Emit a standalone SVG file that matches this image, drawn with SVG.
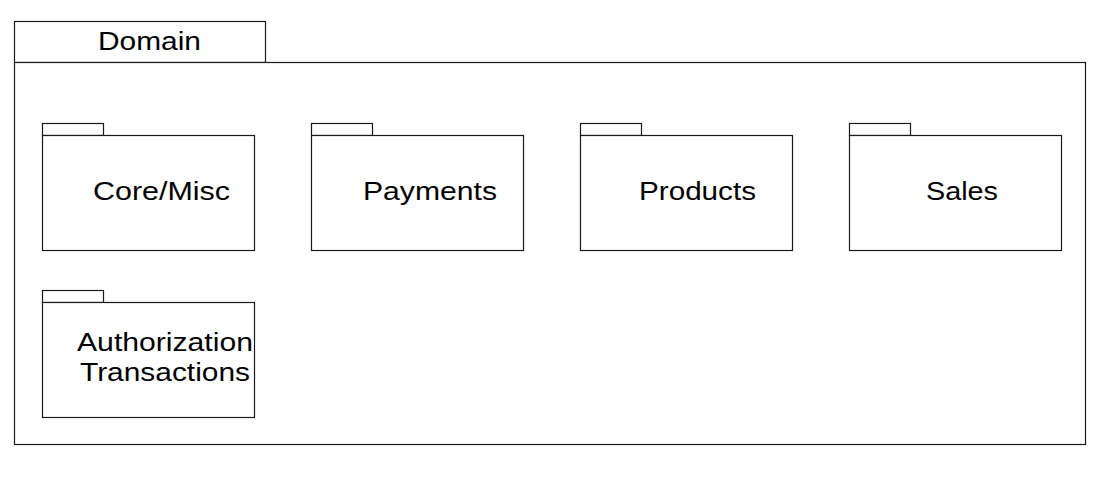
<svg xmlns="http://www.w3.org/2000/svg" width="1117" height="477" viewBox="0 0 1117 477">
<style>
.b{fill:#fff;stroke:#1a1a1a;stroke-width:1.2}
.t{font-family:"Liberation Sans",Arial,sans-serif;font-size:25px;fill:#000}
</style>
<rect width="1117" height="477" fill="#fff"/>
<g id="domain">
<rect class="b" x="14.5" y="21.5" width="251" height="41"/>
<rect class="b" x="14.5" y="62.5" width="1071" height="382"/>
<text class="t" x="98" y="50" textLength="103" lengthAdjust="spacingAndGlyphs">Domain</text>
</g>
<g id="core">
<rect class="b" x="42.5" y="123.5" width="61" height="12"/>
<rect class="b" x="42.5" y="135.5" width="212" height="115"/>
<text class="t" x="93" y="200" textLength="137" lengthAdjust="spacingAndGlyphs">Core/Misc</text>
</g>
<g id="payments">
<rect class="b" x="311.5" y="123.5" width="61" height="12"/>
<rect class="b" x="311.5" y="135.5" width="212" height="115"/>
<text class="t" x="363" y="200" textLength="134" lengthAdjust="spacingAndGlyphs">Payments</text>
</g>
<g id="products">
<rect class="b" x="580.5" y="123.5" width="61" height="12"/>
<rect class="b" x="580.5" y="135.5" width="212" height="115"/>
<text class="t" x="639" y="200" textLength="117" lengthAdjust="spacingAndGlyphs">Products</text>
</g>
<g id="sales">
<rect class="b" x="849.5" y="123.5" width="61" height="12"/>
<rect class="b" x="849.5" y="135.5" width="212" height="115"/>
<text class="t" x="926" y="200" textLength="72" lengthAdjust="spacingAndGlyphs">Sales</text>
</g>
<g id="authorization">
<rect class="b" x="42.5" y="290.5" width="61" height="12"/>
<rect class="b" x="42.5" y="302.5" width="212" height="115"/>
<text class="t" x="77" y="351" textLength="176" lengthAdjust="spacingAndGlyphs">Authorization</text>
<text class="t" x="80" y="381" textLength="170" lengthAdjust="spacingAndGlyphs">Transactions</text>
</g>
<g id="connectors"/>
</svg>
